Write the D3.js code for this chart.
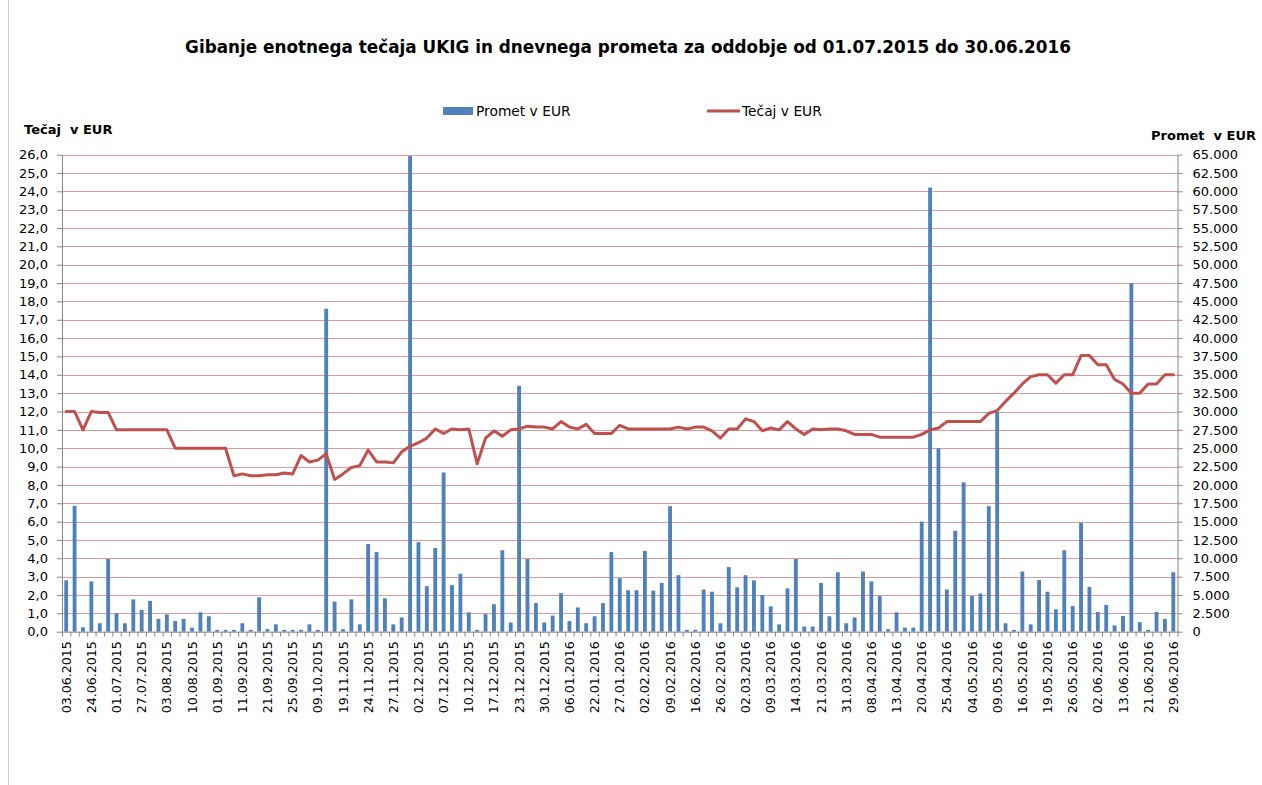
<!DOCTYPE html>
<html><head><meta charset="utf-8">
<script src="https://cdn.jsdelivr.net/npm/d3@7"></script>
<style>
body{margin:0;background:#fff;}
svg{display:block;font-family:"DejaVu Sans",Verdana,sans-serif;}
</style>
</head><body>
<svg id="c" width="1262" height="785"></svg>
<script>
const titleText = "Gibanje enotnega tečaja UKIG in dnevnega prometa za oddobje od 01.07.2015 do 30.06.2016";
const seriesNames = ["Promet v EUR", "Tečaj v EUR"];
const leftAxisTitle = "Tečaj  v EUR";
const rightAxisTitle = "Promet  v EUR";

const dateLabels = ["03.06.2015","24.06.2015","01.07.2015","27.07.2015","03.08.2015","10.08.2015","01.09.2015","11.09.2015","21.09.2015","25.09.2015","09.10.2015","19.11.2015","24.11.2015","27.11.2015","02.12.2015","07.12.2015","10.12.2015","17.12.2015","23.12.2015","30.12.2015","06.01.2016","22.01.2016","27.01.2016","02.02.2016","09.02.2016","16.02.2016","26.02.2016","02.03.2016","09.03.2016","14.03.2016","21.03.2016","31.03.2016","08.04.2016","13.04.2016","20.04.2016","25.04.2016","04.05.2016","09.05.2016","16.05.2016","19.05.2016","26.05.2016","02.06.2016","13.06.2016","21.06.2016","29.06.2016"];

const turnover = [7000,17150,600,6850,1150,9900,2500,1150,4400,2950,
4200,1750,2350,1450,1750,550,2650,2100,250,250,
250,1150,250,4700,350,1000,250,250,250,1000,
250,44000,4100,350,4400,1000,11950,10850,4550,1000,
1950,64800,12200,6200,11400,21700,6350,7900,2650,250,
2400,3750,11100,1250,33500,9900,3900,1250,2200,5250,
1450,3300,1150,2100,3900,10850,7300,5650,5650,11000,
5600,6650,17100,7700,250,250,5750,5450,1150,8800,
6050,7700,7000,5000,3450,1000,5900,9900,700,700,
6650,2100,8100,1150,1950,8200,6850,4850,350,2650,
550,550,15000,60500,25000,5750,13750,20350,4850,5200,
17100,30000,1150,250,8200,1000,7050,5450,3050,11100,
3500,14850,6100,2700,3650,850,2150,47500,1300,250,
2700,1750,8100];

const rate = [12.0,12.0,11.0,12.0,11.95,11.95,11.0,11.0,11.0,11.0,
11.0,11.0,11.0,10.0,10.0,10.0,10.0,10.0,10.0,10.0,
8.5,8.6,8.5,8.5,8.55,8.55,8.65,8.6,9.6,9.25,
9.35,9.7,8.3,8.6,8.95,9.05,9.9,9.25,9.25,9.2,
9.8,10.1,10.3,10.55,11.05,10.8,11.05,11.0,11.05,9.15,
10.55,10.95,10.65,11.0,11.05,11.2,11.15,11.15,11.05,11.45,
11.15,11.05,11.3,10.8,10.8,10.8,11.25,11.05,11.05,11.05,
11.05,11.05,11.05,11.15,11.05,11.15,11.15,10.95,10.55,11.05,
11.05,11.6,11.45,10.95,11.1,11.0,11.45,11.05,10.75,11.05,
11.0,11.05,11.05,10.95,10.75,10.75,10.75,10.6,10.6,10.6,
10.6,10.6,10.75,11.0,11.1,11.45,11.45,11.45,11.45,11.45,
11.9,12.05,12.55,13.0,13.5,13.9,14.0,14.0,13.55,14.0,
14.0,15.05,15.05,14.55,14.55,13.75,13.5,13.0,13.0,13.5,
13.5,14.0,14.0];

const leftTicks = d3.range(0, 27, 1);
const rightTicks = d3.range(0, 65001, 2500);
const labelEvery = 3;
const categories = d3.range(turnover.length);

const svg = d3.select("#c");
const L = 62, R = 1177.5, T = 154.6, B = 631.7;

const x = d3.scaleBand().domain(categories).range([L, R]).paddingInner(0.54).paddingOuter(0.27);
const xb = d3.scaleLinear().domain([0, categories.length]).range([L, R]);
const yL = d3.scaleLinear().domain([0, 26]).range([B, T]);
const yR = d3.scaleLinear().domain([0, 65000]).range([B, T]);

// outer border (left edge of chart area)
svg.append("line").attr("x1", 8.5).attr("x2", 8.5).attr("y1", 0).attr("y2", 785)
  .attr("stroke", "#c8c8c8").attr("stroke-width", 1);

// gridlines
svg.append("g").selectAll("line").data(leftTicks.filter(d => d > 0)).join("line")
  .attr("x1", L).attr("x2", R)
  .attr("y1", d => Math.round(yL(d)) + 0.5).attr("y2", d => Math.round(yL(d)) + 0.5)
  .attr("stroke", "#dd9aa0").attr("stroke-width", 1);

// bars
svg.append("g").selectAll("rect").data(categories).join("rect")
  .attr("x", i => x(i)).attr("width", x.bandwidth())
  .attr("y", i => yR(turnover[i])).attr("height", i => B - yR(turnover[i]))
  .attr("fill", "#4f81bd");

// line
const line = d3.line().x(i => x(i) + x.bandwidth() / 2).y(i => yL(rate[i]));
svg.append("path").datum(categories).attr("d", line)
  .attr("fill", "none").attr("stroke", "#c0504d").attr("stroke-width", 3)
  .attr("stroke-linejoin", "round").attr("stroke-linecap", "round");

const axisColor = "#868686";
function styleAxis(g) {
  g.selectAll("path.domain").attr("stroke", axisColor);
  g.selectAll(".tick line").attr("stroke", axisColor);
  g.selectAll("text").attr("fill", "#000").style("font-family", "DejaVu Sans, Verdana, sans-serif");
}

// left axis
const gl = svg.append("g").attr("transform", `translate(${L},0)`)
  .call(d3.axisLeft(yL).tickValues(leftTicks).tickSize(5).tickSizeOuter(0).tickPadding(9)
    .tickFormat(d => d.toFixed(1).replace(".", ",")));
styleAxis(gl);
gl.selectAll("text").attr("font-size", 13);

// right axis
const gr = svg.append("g").attr("transform", `translate(${R},0)`)
  .call(d3.axisRight(yR).tickValues(rightTicks).tickSize(5).tickSizeOuter(0).tickPadding(10)
    .tickFormat(d => d3.format(",")(d).replace(/,/g, ".")));
styleAxis(gr);
gr.selectAll("text").attr("font-size", 13);

// bottom axis: boundaries ticks
const gb = svg.append("g").attr("transform", `translate(0,${B})`)
  .call(d3.axisBottom(xb).tickValues(d3.range(0, categories.length + 1)).tickSize(5).tickSizeOuter(0).tickFormat(""));
styleAxis(gb);

// bottom labels
const gx = svg.append("g").attr("transform", `translate(0,${B})`)
  .call(d3.axisBottom(x).tickValues(categories.filter(i => i % labelEvery === 0)).tickSize(0)
    .tickFormat(i => dateLabels[i / labelEvery]));
gx.select("path.domain").remove();
gx.selectAll("text").attr("font-size", 12.6)
  .attr("transform", "rotate(-90)").attr("text-anchor", "end")
  .attr("x", -9.5).attr("y", 0).attr("dy", "0.36em")
  .style("font-family", "DejaVu Sans, Verdana, sans-serif").attr("fill", "#000");

// title
const title = svg.append("text").attr("x", 628).attr("y", 53).attr("text-anchor", "middle")
  .attr("font-weight", "bold").attr("font-size", 15).text(titleText);
const tl = title.node().getComputedTextLength();
title.attr("font-size", 15 * 887 / tl);

// axis titles
svg.append("text").attr("x", 24).attr("y", 134).attr("font-weight", "bold").attr("font-size", 13)
  .style("white-space", "pre").text(leftAxisTitle);
svg.append("text").attr("x", 1256).attr("y", 140).attr("text-anchor", "end").attr("font-weight", "bold").attr("font-size", 13)
  .style("white-space", "pre").text(rightAxisTitle);

// legend
const lg = svg.append("g");
lg.append("rect").attr("x", 443).attr("y", 107).attr("width", 30).attr("height", 8).attr("fill", "#4f81bd");
lg.append("text").attr("x", 476).attr("y", 116).attr("font-size", 13.8).text(seriesNames[0]);
lg.append("line").attr("x1", 707).attr("x2", 740).attr("y1", 111).attr("y2", 111)
  .attr("stroke", "#c0504d").attr("stroke-width", 3);
lg.append("text").attr("x", 742).attr("y", 116).attr("font-size", 13.8).text(seriesNames[1]);
</script>
</body></html>
